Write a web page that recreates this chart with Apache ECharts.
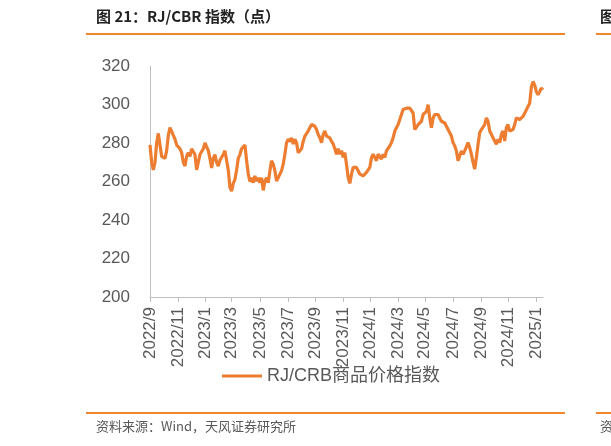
<!DOCTYPE html>
<html>
<head>
<meta charset="utf-8">
<script src="https://cdn.jsdelivr.net/npm/echarts@6/dist/echarts.min.js"></script>
<style>
html,body{margin:0;padding:0;background:#fff;}
#chart{width:611px;height:446px;}
</style>
</head>
<body>
<div id="chart"></div>
<script>
// Series values (RJ/CRB index, ~every 3.7 days from 2022-09-01)
const seriesName = 'RJ/CRB商品价格指数';
const seg2022 = [279,270,266,270,280,285,279,273,272,272,276,284,288,286,285,282,279,279,277,275,270,268,273,275,273,277,278,274,266,270,274,274,277,280,279,276,272,267,272,274,270,268,271,272,274,276,271,266,257,255,259,261,266,272,274,277,278,279,271,264,260];
const seg2023 = [262,259.4,262.9,260.3,262,259.4,262,255.4,260.3,262,259.4,265.6,270.8,269,265.6,260.3,262,262,265.6,269,274.2,280.2,281.9,280.8,282.7,279.5,281.9,280.2,275,275,277,280.8,283.6,284.4,286.2,287.9,289.6,290.4,288.7,287,284.4,282.7,280.2,284.4,286.2,283.6,284.4,282.7,280.8,279.5,277,274.2,277,274.2,276,272.5,275,269,262,259];
const seg2024a = [263.8,267.3,268.2,267.3,265.6,263.8,264.7,262.9,263.8,264.7,265.6,267.3,272.5,274.2,272.5,270.8,274.2,273.3,271.7,274.2,272.5,275.9,276.8,278.5,280.2,282.7,286.2,287.9,289.6,292.2,294.8,297.4,296.4,298.1,297.4,298.1,297.4,295.6,287,287.9,289.6,288.7,291.3,294.8,293.9,296.4,299.9,293,287.9,293,294.8,293.9,294.8,293,291.3,292.2,290.4,289.6,287];
const seg2024b = [287,283.6,280.2,278.5,275.9,270.8,270.8,275.9,274.2,275.9,275.9,280.2,277.6,274.2,269.9,266.5,272.5,279.3,285.3,287,286.2,289.6,293,291.3,286.2,285.3,282.7,283.6,279.3,281.9,280.2,284.4,286.2,281,287.9,289.6,286.2,285.3,287,289.6,293,293,292.2,291.3,293.8,294.6,297.2,299,300.6,309,311.9,310.2,306.7,305,306.7,308.5,307.7];
const values = [].concat(seg2022, seg2023, seg2024a, seg2024b);

// Category dates
const startDate = '2022-09-01';
const stepDays = 3.688;
// Tick labels shown on the x axis
const tickLabels = ['2022/9','2022/11','2023/1','2023/3','2023/5','2023/7','2023/9','2023/11','2024/1','2024/3','2024/5','2024/7','2024/9','2024/11','2025/1'];
// y axis ticks
const yMin = 200, yMax = 320, yStep = 20;

const t0 = Date.parse(startDate + 'T00:00:00Z');
const categories = values.map((_, i) => {
  const d = new Date(t0 + Math.round(i * stepDays) * 86400000);
  return d.getUTCFullYear() + '-' + String(d.getUTCMonth() + 1).padStart(2, '0') + '-' + String(d.getUTCDate()).padStart(2, '0');
});
const monthLabel = c => { const p = c.split('-'); return p[0] + '/' + (+p[1]); };
const showIdx = new Set();
let prev = null;
categories.forEach((c, i) => {
  const m = monthLabel(c);
  if (m !== prev && tickLabels.includes(m)) showIdx.add(i);
  prev = m;
});
const isTick = (idx) => showIdx.has(idx);

const chart = echarts.init(document.getElementById('chart'), null, {renderer: 'canvas'});
const FONT = '"Liberation Sans", Arial, "Noto Sans CJK SC", sans-serif';
const GRAY = '#595959';
const ORANGE_RULE = '#F0862E';
chart.setOption({
  backgroundColor: '#fff',
  animation: false,
  textStyle: {fontFamily: FONT},
  grid: {left: 150, right: 68, top: 66, bottom: 149, containLabel: false},
  xAxis: {
    type: 'category',
    data: categories,
    boundaryGap: false,
    axisLine: {lineStyle: {color: '#BFBFBF', width: 1}},
    axisTick: {show: true, interval: isTick, length: 5, lineStyle: {color: '#BFBFBF'}},
    axisLabel: {
      interval: isTick,
      rotate: 90,
      margin: 10,
      fontSize: 17,
      color: GRAY,
      fontFamily: FONT,
      formatter: v => monthLabel(v)
    },
    splitLine: {show: false}
  },
  yAxis: {
    type: 'value',
    min: yMin, max: yMax, interval: yStep,
    axisLine: {show: true, lineStyle: {color: '#BFBFBF', width: 1}},
    axisTick: {show: false},
    axisLabel: {fontSize: 17, color: GRAY, margin: 20, fontFamily: FONT},
    splitLine: {show: false}
  },
  legend: {
    show: true,
    left: 217,
    top: 362,
    icon: 'rect',
    itemWidth: 40,
    itemHeight: 3,
    itemGap: 10,
    textStyle: {fontSize: 18, color: GRAY, fontFamily: FONT, padding: [0,0,0,0]},
    data: [seriesName]
  },
  series: [{
    name: seriesName,
    type: 'line',
    data: values,
    showSymbol: false,
    symbol: 'none',
    smooth: false,
    lineStyle: {color: '#ED7D31', width: 3.2},
    itemStyle: {color: '#ED7D31'}
  }],
  graphic: [
    {type: 'text', left: 96, top: 9, style: {text: '图 21：RJ/CBR 指数（点）', font: 'bold 15px "Noto Sans CJK SC", sans-serif', fill: '#222'}},
    {type: 'line', shape: {x1: 86, y1: 34, x2: 565, y2: 34}, style: {stroke: ORANGE_RULE, lineWidth: 2}},
    {type: 'text', left: 600, top: 9, style: {text: '图', font: 'bold 15px "Noto Sans CJK SC", sans-serif', fill: '#222'}},
    {type: 'line', shape: {x1: 596, y1: 34, x2: 611, y2: 34}, style: {stroke: ORANGE_RULE, lineWidth: 2}},
    {type: 'line', shape: {x1: 86, y1: 413, x2: 565, y2: 413}, style: {stroke: ORANGE_RULE, lineWidth: 2}},
    {type: 'line', shape: {x1: 596, y1: 413, x2: 611, y2: 413}, style: {stroke: ORANGE_RULE, lineWidth: 2}},
    {type: 'text', left: 96, top: 420, style: {text: '资料来源：Wind，天风证券研究所', font: '13px "Noto Sans CJK SC", sans-serif', fill: GRAY}},
    {type: 'text', left: 600, top: 420, style: {text: '资', font: '13px "Noto Sans CJK SC", sans-serif', fill: GRAY}}
  ]
});
</script>
</body>
</html>
